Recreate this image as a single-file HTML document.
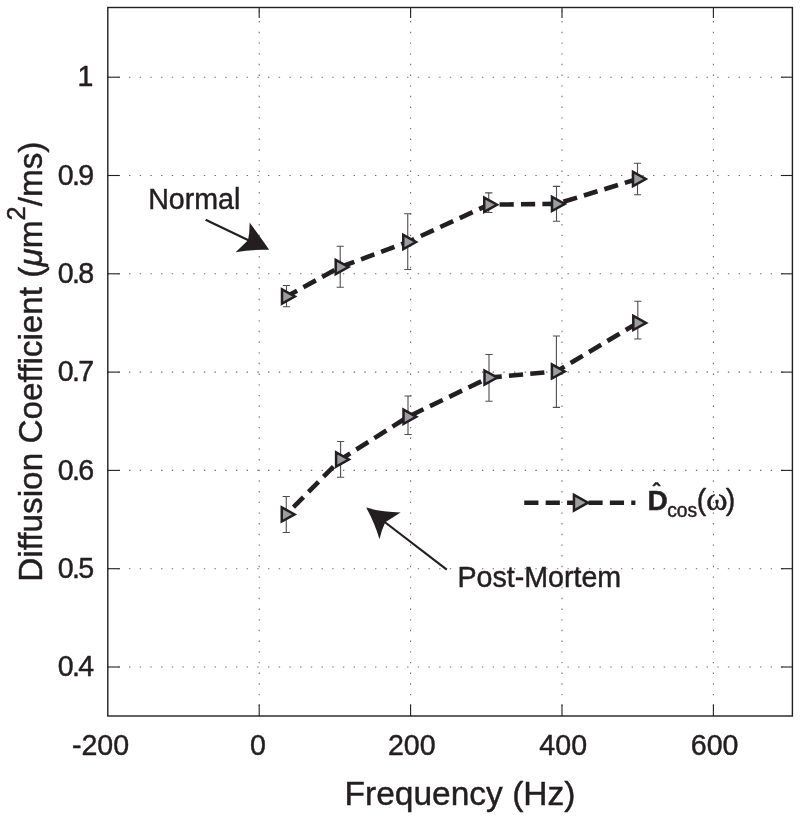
<!DOCTYPE html>
<html><head><meta charset="utf-8"><title>Diffusion Coefficient vs Frequency</title>
<style>html,body{margin:0;padding:0;background:#fff}svg{display:block}text{font-family:"Liberation Sans",sans-serif;fill:#231f20;stroke:#231f20;stroke-width:0.45px;stroke-linejoin:round}</style></head><body>
<svg style="will-change:transform" width="800" height="819" viewBox="0 0 800 819">
<rect width="800" height="819" fill="#fff"/>
<g stroke="#6d6e71" stroke-width="1.1" stroke-dasharray="1.4 9.28" fill="none">
<line x1="259.20" y1="716.00" x2="259.20" y2="7.50" stroke-dashoffset="0.7"/>
<line x1="410.60" y1="716.00" x2="410.60" y2="7.50" stroke-dashoffset="0.7"/>
<line x1="562.00" y1="716.00" x2="562.00" y2="7.50" stroke-dashoffset="0.7"/>
<line x1="713.40" y1="716.00" x2="713.40" y2="7.50" stroke-dashoffset="0.7"/>
<line x1="107.80" y1="77.20" x2="792.40" y2="77.20" stroke-dasharray="1.4 9.295" stroke-dashoffset="0.2"/>
<line x1="107.80" y1="175.50" x2="792.40" y2="175.50" stroke-dasharray="1.4 9.295" stroke-dashoffset="0.2"/>
<line x1="107.80" y1="273.80" x2="792.40" y2="273.80" stroke-dasharray="1.4 9.295" stroke-dashoffset="0.2"/>
<line x1="107.80" y1="372.10" x2="792.40" y2="372.10" stroke-dasharray="1.4 9.295" stroke-dashoffset="0.2"/>
<line x1="107.80" y1="470.40" x2="792.40" y2="470.40" stroke-dasharray="1.4 9.295" stroke-dashoffset="0.2"/>
<line x1="107.80" y1="568.70" x2="792.40" y2="568.70" stroke-dasharray="1.4 9.295" stroke-dashoffset="0.2"/>
<line x1="107.80" y1="667.00" x2="792.40" y2="667.00" stroke-dasharray="1.4 9.295" stroke-dashoffset="0.2"/>
</g>
<g stroke="#231f20" fill="none">
<rect x="107.80" y="7.50" width="684.60" height="708.50" stroke-width="1.4"/>
<g stroke-width="1.1">
<line x1="259.20" y1="716.00" x2="259.20" y2="704.50"/>
<line x1="259.20" y1="7.50" x2="259.20" y2="18.00"/>
<line x1="410.60" y1="716.00" x2="410.60" y2="704.50"/>
<line x1="410.60" y1="7.50" x2="410.60" y2="18.00"/>
<line x1="562.00" y1="716.00" x2="562.00" y2="704.50"/>
<line x1="562.00" y1="7.50" x2="562.00" y2="18.00"/>
<line x1="713.40" y1="716.00" x2="713.40" y2="704.50"/>
<line x1="713.40" y1="7.50" x2="713.40" y2="18.00"/>
<line x1="107.80" y1="77.20" x2="119.80" y2="77.20"/>
<line x1="792.40" y1="77.20" x2="780.90" y2="77.20"/>
<line x1="107.80" y1="175.50" x2="119.80" y2="175.50"/>
<line x1="792.40" y1="175.50" x2="780.90" y2="175.50"/>
<line x1="107.80" y1="273.80" x2="119.80" y2="273.80"/>
<line x1="792.40" y1="273.80" x2="780.90" y2="273.80"/>
<line x1="107.80" y1="372.10" x2="119.80" y2="372.10"/>
<line x1="792.40" y1="372.10" x2="780.90" y2="372.10"/>
<line x1="107.80" y1="470.40" x2="119.80" y2="470.40"/>
<line x1="792.40" y1="470.40" x2="780.90" y2="470.40"/>
<line x1="107.80" y1="568.70" x2="119.80" y2="568.70"/>
<line x1="792.40" y1="568.70" x2="780.90" y2="568.70"/>
<line x1="107.80" y1="667.00" x2="119.80" y2="667.00"/>
<line x1="792.40" y1="667.00" x2="780.90" y2="667.00"/>
</g></g>
<g stroke="#4d4d4f" stroke-width="1.1" fill="none">
<path d="M286.50 285.50V306.70M282.90 285.50h7.2M282.90 306.70h7.2"/>
<path d="M340.20 246.20V287.20M336.60 246.20h7.2M336.60 287.20h7.2"/>
<path d="M407.75 213.70V269.50M404.15 213.70h7.2M404.15 269.50h7.2"/>
<path d="M488.75 192.90V212.50M485.15 192.90h7.2M485.15 212.50h7.2"/>
<path d="M556.50 186.40V221.20M552.90 186.40h7.2M552.90 221.20h7.2"/>
<path d="M637.50 163.30V194.80M633.90 163.30h7.2M633.90 194.80h7.2"/>
<path d="M286.25 496.50V532.50M282.65 496.50h7.2M282.65 532.50h7.2"/>
<path d="M340.60 441.50V477.25M337.00 441.50h7.2M337.00 477.25h7.2"/>
<path d="M408.00 396.00V434.50M404.40 396.00h7.2M404.40 434.50h7.2"/>
<path d="M489.00 354.50V401.25M485.40 354.50h7.2M485.40 401.25h7.2"/>
<path d="M556.40 336.00V407.40M552.80 336.00h7.2M552.80 407.40h7.2"/>
<path d="M637.80 301.20V339.00M634.20 301.20h7.2M634.20 339.00h7.2"/>
</g>
<polyline points="286.50,296.50 340.20,267.00 407.75,242.00 488.75,204.70 556.50,203.90 637.50,179.00" fill="none" stroke="#231f20" stroke-width="4.6" stroke-dasharray="14.2 7.2" stroke-dashoffset="2.1" stroke-linejoin="round"/>
<polyline points="286.25,514.40 340.60,459.50 408.00,416.80 489.00,377.60 556.40,371.40 637.80,322.90" fill="none" stroke="#231f20" stroke-width="4.6" stroke-dasharray="14.2 7.2" stroke-dashoffset="11.15" stroke-linejoin="round"/>
<line x1="524.25" y1="502.7" x2="635.4" y2="502.7" stroke="#231f20" stroke-width="4.6" stroke-dasharray="14.2 7.2"/>
<g fill="#9b9da0" stroke="#231f20" stroke-width="2.5" stroke-linejoin="miter">
<path d="M282.00 289.40L294.80 296.50L282.00 303.60Z"/>
<path d="M335.70 259.90L348.50 267.00L335.70 274.10Z"/>
<path d="M403.25 234.90L416.05 242.00L403.25 249.10Z"/>
<path d="M484.25 197.60L497.05 204.70L484.25 211.80Z"/>
<path d="M552.00 196.80L564.80 203.90L552.00 211.00Z"/>
<path d="M633.00 171.90L645.80 179.00L633.00 186.10Z"/>
<path d="M281.75 507.30L294.55 514.40L281.75 521.50Z"/>
<path d="M336.10 452.40L348.90 459.50L336.10 466.60Z"/>
<path d="M403.50 409.70L416.30 416.80L403.50 423.90Z"/>
<path d="M484.50 370.50L497.30 377.60L484.50 384.70Z"/>
<path d="M551.90 364.30L564.70 371.40L551.90 378.50Z"/>
<path d="M633.30 315.80L646.10 322.90L633.30 330.00Z"/>
<path d="M573.95 494.89L588.03 502.70L573.95 510.51Z" stroke-width="2.5"/>
</g>
<g fill="#231f20" stroke="none">
<path d="M205.6 219.7L250 241" stroke="#231f20" stroke-width="2.2" fill="none"/>
<path d="M269.2 249.8Q259.8 236.4 249.6 222.6Q249.8 232 248 240.2L235.6 252.2Q252.4 249.3 269.2 249.8Z"/>
<path d="M446.8 569.6L384 521.5" stroke="#231f20" stroke-width="2.2" fill="none"/>
<path d="M366.2 507.6Q383.2 512.3 400.6 512.4L385.3 522.3Q381.5 530 379.5 539.2Q374.6 522.7 366.2 507.6Z"/>
</g>
<g font-size="28.6">
<text x="93.4" y="86.4" text-anchor="end">1</text>
<text x="92.6" y="184.7" text-anchor="end" letter-spacing="-1.6">0.9</text>
<text x="92.6" y="283.0" text-anchor="end" letter-spacing="-1.6">0.8</text>
<text x="92.6" y="381.3" text-anchor="end" letter-spacing="-1.6">0.7</text>
<text x="92.6" y="479.6" text-anchor="end" letter-spacing="-1.6">0.6</text>
<text x="92.6" y="577.9" text-anchor="end" letter-spacing="-1.6">0.5</text>
<text x="92.6" y="676.2" text-anchor="end" letter-spacing="-1.6">0.4</text>
<text x="258.0" y="755" text-anchor="middle">0</text>
<text x="411.8" y="755" text-anchor="middle">200</text>
<text x="563.2" y="755" text-anchor="middle">400</text>
<text x="714.6" y="755" text-anchor="middle">600</text>
<text x="100.5" y="755" text-anchor="middle">-200</text>
<text x="148.2" y="209.4">Normal</text>
<text x="457.5" y="586.8">Post-Mortem</text>
</g>
<text x="344.6" y="804.8" font-size="33.5">Frequency (Hz)</text>
<text transform="translate(41.9 581.8) rotate(-90)" font-size="33.3">Diffusion Coefficient (<tspan font-style="italic">μ</tspan>m<tspan font-size="25.5" dy="-17">2</tspan><tspan dy="17">/ms)</tspan></text>
<text x="647.4" y="509.8" font-size="28.2" font-weight="bold">D</text>
<text x="656.3" y="497.9" font-size="21" font-weight="bold" text-anchor="middle">ˆ</text>
<text x="667.2" y="517.2" font-size="19.3">cos</text>
<text x="696.8" y="509.8" font-size="28.6">(</text>
<text transform="translate(706.2 509.9) scale(1.13 1.1)" font-size="28.6" style="font-family:'Liberation Serif',serif">ω</text>
<text x="725.7" y="509.8" font-size="28.6">)</text>
</svg></body></html>
